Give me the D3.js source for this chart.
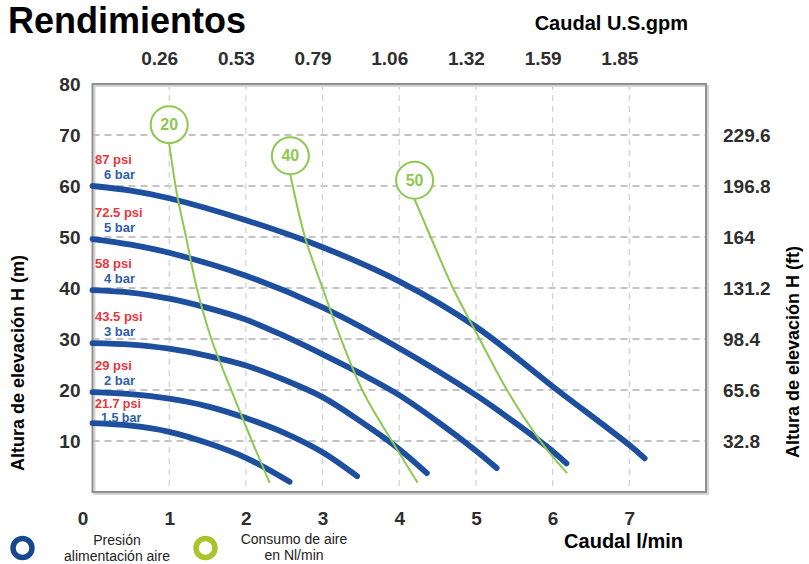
<!DOCTYPE html>
<html><head><meta charset="utf-8">
<script src="https://cdn.jsdelivr.net/npm/d3@7"></script>
<style>body{margin:0;background:#fff}svg{display:block}</style>
</head><body><svg id="c" width="809" height="564"></svg>
<script>
// ---- data ----
const flowTicks = [0, 1, 2, 3, 4, 5, 6, 7];
const headTicks = [10, 20, 30, 40, 50, 60, 70, 80];
const gpmTicks = [1, 2, 3, 4, 5, 6, 7];
const gpmLabels = ["0.26", "0.53", "0.79", "1.06", "1.32", "1.59", "1.85"];
const ftTicks = [10, 20, 30, 40, 50, 60, 70];
const ftLabels = ["32.8", "65.6", "98.4", "131.2", "164", "196.8", "229.6"];
const barLabels = ["6 bar", "5 bar", "4 bar", "3 bar", "2 bar", "1,5 bar"];
const psiLabels = ["87 psi", "72.5 psi", "58 psi", "43.5 psi", "29 psi", "21.7 psi"];

const curve6 = [[0,60],[0.5,59.1],[1,57.6],[2,53.3],[3,48],[4,41.3],[5,32.4],[6,20.7],[7,9.2],[7.2,6.6]];
const curve5 = [[0,49.6],[0.5,48.5],[1,46.9],[2,42.4],[3,36.2],[4,28.2],[5,19],[5.5,13.7],[6,8],[6.18,5.6]];
const curve4 = [[0,39.6],[0.5,39.1],[1,37.9],[1.5,36.1],[2,33.8],[2.5,30.6],[3,27],[3.5,23.2],[4,19],[4.5,13.8],[5,8.1],[5.27,4.7]];
const curve3 = [[0,29.2],[0.5,28.9],[1,28.1],[1.5,26.7],[2,24.8],[2.5,22],[3,18.6],[3.5,13.8],[4,8.4],[4.36,3.7]];
const curve2 = [[0,19.6],[0.5,19.2],[1,18.3],[1.5,16.8],[2,14.5],[2.5,11.6],[3,7.8],[3.45,3.1]];
const curve15 = [[0,13.5],[0.5,13],[1,11.8],[1.5,9.6],[2,6.7],[2.57,2]];
const pressureCurves = [curve6, curve5, curve4, curve3, curve2, curve15];

const air20 = [[1.0,68.3],[1.1,58.5],[1.22,50],[1.36,40],[1.55,30],[1.82,19.6],[2.09,9.6],[2.31,1.8]];
const air40 = [[2.58,62.2],[2.77,50],[3.0,40],[3.22,30.8],[3.53,19.6],[3.92,9.6],[4.24,1.8]];
const air50 = [[4.2,57.4],[4.41,50],[4.7,40],[5.02,30.8],[5.42,19.6],[5.86,9.6],[6.19,3.7]];
const airCurves = [air20, air40, air50];
const airLabels = ["20", "40", "50"];

// ---- drawing ----
const svg = d3.select("#c");
svg.append("rect").attr("width", 809).attr("height", 564).attr("fill", "#fff");
const x = d3.scaleLinear().domain([0, 8]).range([92.5, 706]);
const y = d3.scaleLinear().domain([0, 80]).range([492, 84]);
const FONT = "'Liberation Sans', Arial, sans-serif";
const BLUE = "#1d4f9e", GREEN = "#8dc850";

// frame shadow
svg.append("rect").attr("x", x(0) + 2).attr("y", y(80) + 2)
  .attr("width", x(8) - x(0)).attr("height", y(0) - y(80))
  .attr("fill", "none").attr("stroke", "#d4d4d4").attr("stroke-width", 2);

// grid
svg.append("g").selectAll("line").data(headTicks.filter(d => d < 80)).join("line")
  .attr("x1", x(0)).attr("x2", x(8)).attr("y1", d => y(d)).attr("y2", d => y(d))
  .attr("stroke", "#c4c4c4").attr("stroke-width", 1.8).attr("stroke-dasharray", "7,5");
svg.append("g").selectAll("line").data(flowTicks.filter(d => d > 0)).join("line")
  .attr("x1", d => x(d)).attr("x2", d => x(d)).attr("y1", y(80)).attr("y2", y(0))
  .attr("stroke", "#cdd3d6").attr("stroke-width", 1.2).attr("stroke-dasharray", "6,5");

// frame
svg.append("rect").attr("x", x(0)).attr("y", y(80))
  .attr("width", x(8) - x(0)).attr("height", y(0) - y(80))
  .attr("fill", "none").attr("stroke", "#8f8f8f").attr("stroke-width", 2);

// axes
function styleAxis(g) {
  g.select(".domain").remove();
  g.selectAll("line").remove();
  g.selectAll("text").attr("font-family", FONT).attr("font-weight", "bold")
    .attr("font-size", 19).attr("fill", "#2e2e2e");
}
svg.append("g").attr("transform", `translate(0,${y(0)})`)
  .call(d3.axisBottom(x).tickValues(flowTicks).tickSize(0).tickPadding(19.5).tickFormat(d3.format("d")))
  .call(styleAxis)
  .selectAll(".tick").filter(d => d === 0).select("text").attr("dx", -10);
svg.append("g").attr("transform", `translate(-10,${y(80)})`)
  .call(d3.axisTop(x).tickValues(gpmTicks).tickSize(0).tickPadding(19).tickFormat((d, i) => gpmLabels[i]))
  .call(styleAxis);
svg.append("g").attr("transform", `translate(${x(0)},0)`)
  .call(d3.axisLeft(y).tickValues(headTicks).tickSize(0).tickPadding(12))
  .call(styleAxis);
svg.append("g").attr("transform", `translate(${x(8)},0)`)
  .call(d3.axisRight(y).tickValues(ftTicks).tickSize(0).tickPadding(17).tickFormat((d, i) => ftLabels[i]))
  .call(styleAxis);

// pressure curves
const line = d3.line().x(d => x(d[0])).y(d => y(d[1])).curve(d3.curveCatmullRom.alpha(0.5));
svg.append("g").selectAll("path").data(pressureCurves).join("path")
  .attr("d", line).attr("fill", "none").attr("stroke", BLUE)
  .attr("stroke-width", 5.8).attr("stroke-linecap", "round");

// air consumption curves
const airG = svg.append("g");
airCurves.forEach((c, i) => {
  airG.append("path").attr("d", line(c)).attr("fill", "none")
    .attr("stroke", GREEN).attr("stroke-width", 2);
  const cx = x(c[0][0]), cy = y(c[0][1]) - 19;
  airG.append("circle").attr("cx", cx).attr("cy", cy).attr("r", 18.5)
    .attr("fill", "#fff").attr("stroke", GREEN).attr("stroke-width", 2);
  airG.append("text").attr("x", cx).attr("y", cy).attr("dy", "0.35em")
    .attr("text-anchor", "middle").attr("font-family", FONT).attr("font-weight", "bold")
    .attr("font-size", 16).attr("fill", GREEN).text(airLabels[i]);
});

// pressure labels
const lab = svg.append("g").attr("font-family", FONT).attr("font-size", 13).attr("font-weight", "bold");
pressureCurves.forEach((c, i) => {
  const y0 = y(c[0][1]);
  const last = i === pressureCurves.length - 1;
  lab.append("text").attr("x", 95).attr("y", y0 - (last ? 20 : 27)).attr("dy", "0.35em")
    .attr("font-size", last ? 12.5 : 13).attr("fill", "#e8373e").text(psiLabels[i]);
  lab.append("text").attr("x", last ? 101 : 104).attr("y", y0 - (last ? 6 : 12)).attr("dy", "0.35em")
    .attr("font-size", last ? 12.5 : 13).attr("fill", "#2f5ea8").text(barLabels[i]);
});

// titles
svg.append("text").attr("x", 8).attr("y", 33).attr("font-family", FONT)
  .attr("font-weight", "bold").attr("font-size", 36).attr("fill", "#000").text("Rendimientos");
svg.append("text").attr("x", 688).attr("y", 30).attr("text-anchor", "end").attr("font-family", FONT)
  .attr("font-weight", "bold").attr("font-size", 20).attr("fill", "#000").text("Caudal U.S.gpm");
svg.append("text").attr("x", 683).attr("y", 548).attr("text-anchor", "end").attr("font-family", FONT)
  .attr("font-weight", "bold").attr("font-size", 20).attr("fill", "#000").text("Caudal l/min");
svg.append("text").attr("transform", "translate(24,363) rotate(-90)").attr("text-anchor", "middle")
  .attr("font-family", FONT).attr("font-weight", "bold").attr("font-size", 18).attr("fill", "#000")
  .text("Altura de elevación H (m)");
svg.append("text").attr("transform", "translate(799,352) rotate(-90)").attr("text-anchor", "middle")
  .attr("font-family", FONT).attr("font-weight", "bold").attr("font-size", 18).attr("fill", "#000")
  .text("Altura de elevación H (ft)");

// legend
const leg = svg.append("g").attr("font-family", FONT).attr("font-size", 14).attr("fill", "#222");
leg.append("circle").attr("cx", 22.5).attr("cy", 548).attr("r", 9.5).attr("fill", "none")
  .attr("stroke", "#174a8c").attr("stroke-width", 5.5);
leg.append("circle").attr("cx", 205.5).attr("cy", 548).attr("r", 9.5).attr("fill", "none")
  .attr("stroke", "#a9c52a").attr("stroke-width", 5.5);
leg.append("text").attr("x", 117).attr("y", 545).attr("text-anchor", "middle").text("Presión");
leg.append("text").attr("x", 117).attr("y", 561).attr("text-anchor", "middle").text("alimentación aire");
leg.append("text").attr("x", 294).attr("y", 544).attr("text-anchor", "middle").text("Consumo de aire");
leg.append("text").attr("x", 294).attr("y", 560).attr("text-anchor", "middle").text("en Nl/min");
</script></body></html>
